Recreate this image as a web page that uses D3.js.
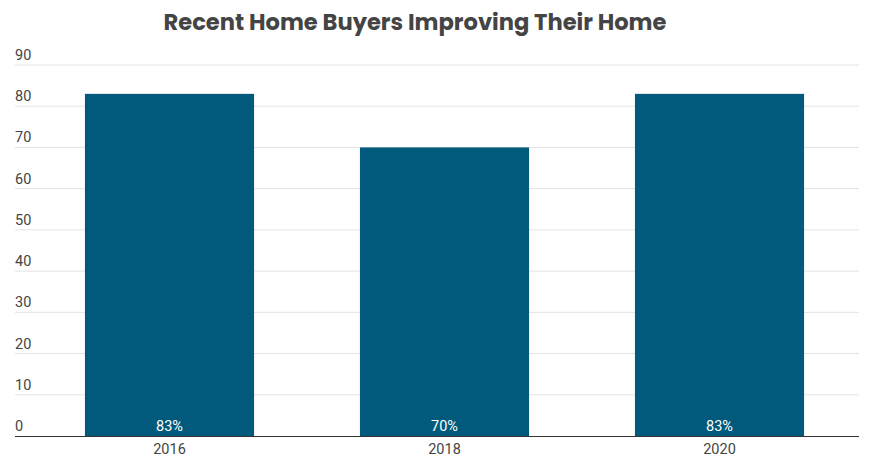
<!DOCTYPE html>
<html><head><meta charset="utf-8">
<script src="https://cdn.jsdelivr.net/npm/d3@7"></script>
<style>body{margin:0;background:#fff}</style>
</head><body>
<svg id="c" width="875" height="457"></svg>
<script>
const categories = ["2016", "2018", "2020"];
const values = [83, 70, 83];
const valueLabels = ["83%", "70%", "83%"];
const yTicks = [0, 10, 20, 30, 40, 50, 60, 70, 80, 90];
const title = "Recent Home Buyers Improving Their Home";

const svg = d3.select("#c");
const x = d3.scaleBand().domain(categories).range([32, 857]).paddingInner(0.385).paddingOuter(0.1925);
const y = d3.scaleLinear().domain([0, 90]).range([436, 65]);

svg.append("text").attr("x", 415).attr("y", 30).attr("text-anchor", "middle")
  .attr("font-family", "Poppins, 'Open Sans', sans-serif").attr("font-weight", 700)
  .attr("font-size", 22.6).attr("fill", "#444").text(title);

const g = svg.append("g");
g.selectAll("line.grid").data(yTicks.filter(d => d > 0)).join("line")
  .attr("x1", 15).attr("x2", 859).attr("y1", d => y(d)).attr("y2", d => y(d))
  .attr("stroke", "#e3e3e3").attr("stroke-width", 1);
g.selectAll("text.yt").data(yTicks).join("text")
  .attr("x", 15).attr("y", d => y(d) - 5)
  .attr("font-family", "Roboto, sans-serif").attr("font-size", 14.5).attr("fill", "#444")
  .text(d => d);

svg.selectAll("rect.bar").data(values).join("rect")
  .attr("x", (d, i) => x(categories[i])).attr("width", x.bandwidth())
  .attr("y", d => y(d)).attr("height", d => y(0) - y(d)).attr("fill", "#015a7c");

svg.selectAll("text.vl").data(values).join("text")
  .attr("x", (d, i) => x(categories[i]) + x.bandwidth() / 2).attr("y", y(0) - 5)
  .attr("text-anchor", "middle").attr("font-family", "Roboto, sans-serif").attr("font-size", 14.5)
  .attr("fill", "#fff").text((d, i) => valueLabels[i]);

svg.append("line").attr("x1", 15).attr("x2", 859).attr("y1", y(0) + 0.5).attr("y2", y(0) + 0.5)
  .attr("stroke", "#333").attr("stroke-width", 1.2);

svg.selectAll("text.xl").data(categories).join("text")
  .attr("x", d => x(d) + x.bandwidth() / 2).attr("y", 454)
  .attr("text-anchor", "middle").attr("font-family", "Roboto, sans-serif").attr("font-size", 14.5)
  .attr("fill", "#444").text(d => d);
</script>
</body></html>
